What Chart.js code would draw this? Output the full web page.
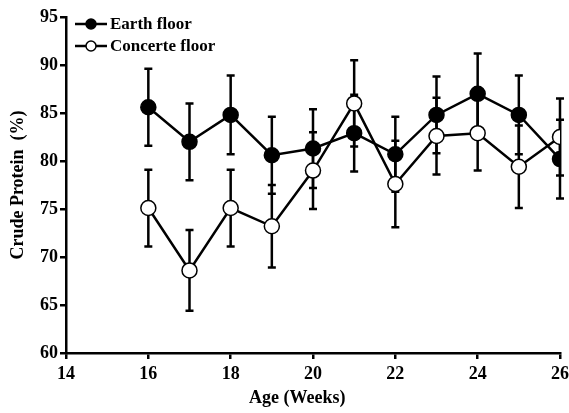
<!DOCTYPE html>
<html>
<head>
<meta charset="utf-8">
<script src="https://cdn.jsdelivr.net/npm/chart.js@4"></script>
<style>
  html, body { margin:0; padding:0; background:#fff; }
  #wrap { width:569px; height:413px; }
</style>
</head>
<body>
<div id="wrap"><canvas id="c" width="569" height="413"></canvas></div>
<script>
// --- data ---
const weeks = [16, 17, 18, 19, 20, 21, 22, 23, 24, 25, 26];
const earthMean = [85.6, 82.0, 84.8, 80.6, 81.3, 82.9, 80.7, 84.8, 87.0, 84.8, 80.2];
const earthErr  = [4.0, 4.0, 4.1, 4.0, 4.1, 4.0, 3.9, 4.0, 4.2, 4.1, 4.1];
const concMean  = [75.1, 68.6, 75.1, 73.2, 79.0, 86.0, 77.6, 82.6, 82.9, 79.4, 82.5];
const concErr   = [4.0, 4.2, 4.0, 4.3, 4.0, 4.5, 4.5, 4.0, 3.9, 4.3, 4.0];
const xTicks = [14, 16, 18, 20, 22, 24, 26];
const yTicks = [60, 65, 70, 75, 80, 85, 90, 95];

const FONT = "'Liberation Serif', 'Times New Roman', serif";

const pts = (m) => weeks.map((w, i) => ({ x: w, y: m[i] }));

// error bars drawn under the markers
const errorBars = {
  id: 'errorBars',
  beforeDatasetsDraw(chart) {
    const { ctx, scales: { x, y } } = chart;
    ctx.save();
    ctx.strokeStyle = '#000';
    ctx.lineWidth = 2.5;
    chart.data.datasets.forEach(ds => {
      ds.data.forEach((p, i) => {
        const px = x.getPixelForValue(p.x);
        const top = y.getPixelForValue(p.y + ds.err[i]);
        const bot = y.getPixelForValue(p.y - ds.err[i]);
        ctx.beginPath();
        ctx.moveTo(px, top); ctx.lineTo(px, bot);
        ctx.moveTo(px - 4, top); ctx.lineTo(px + 4, top);
        ctx.moveTo(px - 4, bot); ctx.lineTo(px + 4, bot);
        ctx.stroke();
      });
    });
    ctx.restore();
  }
};

// legend in the top-left corner: line + marker + label
const cornerLegend = {
  id: 'cornerLegend',
  afterDraw(chart) {
    const { ctx, chartArea } = chart;
    ctx.save();
    ctx.font = 'bold 17px ' + FONT;
    ctx.textBaseline = 'middle';
    chart.data.datasets.forEach((ds, i) => {
      const yy = chartArea.top + 7 + i * 22;
      const x0 = chartArea.left + 9;
      ctx.strokeStyle = '#000';
      ctx.lineWidth = 2.5;
      ctx.beginPath(); ctx.moveTo(x0, yy); ctx.lineTo(x0 + 32, yy); ctx.stroke();
      ctx.beginPath(); ctx.arc(x0 + 16, yy, 5, 0, Math.PI * 2);
      ctx.fillStyle = ds.pointBackgroundColor; ctx.fill();
      ctx.lineWidth = 1.5; ctx.stroke();
      ctx.fillStyle = '#000';
      ctx.fillText(ds.label, x0 + 35, yy + 1);
    });
    ctx.restore();
  }
};

const common = {
  borderColor: '#000',
  borderWidth: 2.5,
  pointRadius: 7.5,
  pointBorderColor: '#000',
  pointBorderWidth: 1.5,
  tension: 0
};

new Chart(document.getElementById('c'), {
  type: 'line',
  data: {
    datasets: [
      Object.assign({ label: 'Earth floor', data: pts(earthMean), err: earthErr,
        pointBackgroundColor: '#000', backgroundColor: '#000' }, common),
      Object.assign({ label: 'Concerte floor', data: pts(concMean), err: concErr,
        pointBackgroundColor: '#fff', backgroundColor: '#fff' }, common)
    ]
  },
  options: {
    responsive: false,
    animation: false,
    layout: { padding: { top: 17, right: 9, left: 0, bottom: 0 } },
    plugins: { legend: { display: false }, tooltip: { enabled: false } },
    scales: {
      x: {
        type: 'linear', min: 14, max: 26,
        afterBuildTicks: s => { s.ticks = xTicks.map(v => ({ value: v })); },
        afterFit: s => { s.height = 60; s.paddingRight = 0; s.paddingLeft = 0; },
        border: { display: true, color: '#000', width: 2.5 },
        grid: { drawOnChartArea: false, drawTicks: true, tickLength: 6, color: '#000', lineWidth: 2.5 },
        ticks: { color: '#000', padding: 5, font: { family: FONT, size: 18, weight: 'bold' }, maxRotation: 0 },
        // trailing spaces pull the centred title a little to the left, as in the figure
        title: { display: true, text: 'Age (Weeks)       ', color: '#000', padding: { top: 0 },
          font: { family: FONT, size: 18, weight: 'bold' } }
      },
      y: {
        type: 'linear', min: 60, max: 95,
        afterBuildTicks: s => { s.ticks = yTicks.map(v => ({ value: v })); },
        afterFit: s => { s.width = 66; },
        border: { display: true, color: '#000', width: 2.5 },
        grid: { drawOnChartArea: false, drawTicks: true, tickLength: 6, color: '#000', lineWidth: 2.5 },
        ticks: { color: '#000', padding: 2, font: { family: FONT, size: 18, weight: 'bold' } },
        title: { display: true, text: 'Crude Protein  (%)', color: '#000', padding: { top: 8, bottom: 0 },
          font: { family: FONT, size: 18, weight: 'bold' } }
      }
    }
  },
  plugins: [errorBars, cornerLegend]
});
</script>
</body>
</html>
